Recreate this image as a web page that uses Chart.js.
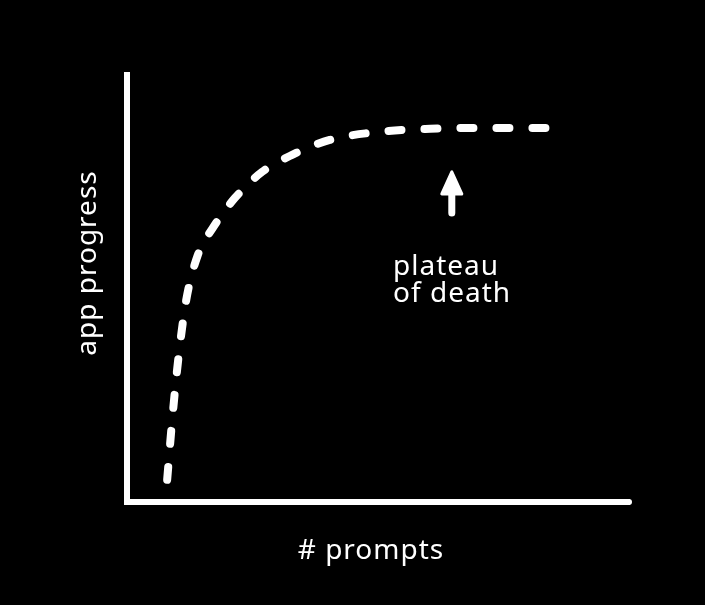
<!DOCTYPE html>
<html>
<head>
<meta charset="utf-8">
<script src="https://cdn.jsdelivr.net/npm/chart.js@4/dist/chart.umd.min.js"></script>
<style>
  html, body { margin: 0; padding: 0; background: #000; }
  #wrap { width: 705px; height: 605px; }
</style>
</head>
<body>
<div id="wrap"><canvas id="curve"></canvas></div>
<script>
// prompts (x) vs app progress (y), both on a 0..100 scale
const prompts = [8.0, 9.0, 10.2, 11.8, 14.1, 17.1, 21.5, 26.9, 32.9, 40.4, 50.4, 60.4, 70.3, 84.3];
const progress = [5.2, 19.2, 33.3, 47.3, 57.8, 64.2, 71.2, 77.3, 81.3, 84.8, 86.7, 87.4, 87.6, 87.6];

const xTitle = "# prompts";
const yTitle = "app progress";
const noteLines = ["plateau", "of death"];

// annotation anchor in data units
const arrowX = 64.7;
const arrowTip = 77.3;
const arrowBase = 67.7;
const noteX = 53.0;
const noteY = [53.2, 46.8];

const FONT = "28px 'Noto Sans', sans-serif";

const sketchText = {
  id: "sketchText",
  afterDraw(chart) {
    const { ctx, chartArea, scales } = chart;
    const x = scales.x, y = scales.y;
    ctx.save();
    ctx.fillStyle = "#fff";
    ctx.strokeStyle = "#fff";

    // round off the axis ends
    ctx.beginPath();
    ctx.arc(chartArea.left, chartArea.top, 3, 0, Math.PI * 2);
    ctx.arc(chartArea.left, chartArea.bottom, 3, 0, Math.PI * 2);
    ctx.fill();
    ctx.beginPath();
    ctx.arc(chartArea.right, chartArea.bottom, 3, 0, Math.PI * 2);
    ctx.fill();

    // arrow pointing at the plateau
    const ax = x.getPixelForValue(arrowX);
    const tip = y.getPixelForValue(arrowTip);
    const base = y.getPixelForValue(arrowBase);
    ctx.lineWidth = 7;
    ctx.lineCap = "round";
    ctx.beginPath();
    ctx.moveTo(ax, base);
    ctx.lineTo(ax, tip + 16);
    ctx.stroke();
    ctx.lineJoin = "round";
    ctx.lineWidth = 3;
    ctx.beginPath();
    ctx.moveTo(ax, tip);
    ctx.lineTo(ax - 10, tip + 22);
    ctx.lineTo(ax + 10, tip + 22);
    ctx.closePath();
    ctx.fill();
    ctx.stroke();

    ctx.font = FONT;
    ctx.letterSpacing = "1px";
    ctx.textAlign = "left";
    ctx.textBaseline = "alphabetic";
    noteLines.forEach((t, i) => {
      ctx.fillText(t, x.getPixelForValue(noteX), y.getPixelForValue(noteY[i]));
    });

    // axis titles
    ctx.textAlign = "center";
    ctx.textBaseline = "middle";
    ctx.fillText(xTitle, chartArea.left + 244, chartArea.bottom + 49);
    ctx.save();
    ctx.translate(chartArea.left - 39, chartArea.top + 188);
    ctx.rotate(-Math.PI / 2);
    ctx.fillText(yTitle, 0, 0);
    ctx.restore();

    ctx.restore();
  }
};

new Chart(document.getElementById("curve"), {
  type: "scatter",
  data: {
    datasets: [{
      data: prompts.map((p, i) => ({ x: p, y: progress[i] })),
      showLine: true,
      borderColor: "#fff",
      borderWidth: 8,
      borderDash: [13, 23],
      borderCapStyle: "round",
      cubicInterpolationMode: "monotone",
      pointRadius: 0,
      fill: false,
    }],
  },
  options: {
    responsive: true,
    maintainAspectRatio: false,
    animation: false,
    layout: { padding: { left: 127, right: 76, top: 75, bottom: 103 } },
    plugins: {
      legend: { display: false },
      tooltip: { enabled: false },
    },
    scales: {
      x: {
        type: "linear",
        min: 0,
        max: 100,
        ticks: { display: false },
        grid: { display: false },
        border: { display: true, color: "#fff", width: 6 },
        afterFit: (s) => { s.height = 0; },
      },
      y: {
        type: "linear",
        min: 0,
        max: 100,
        ticks: { display: false },
        grid: { display: false },
        border: { display: true, color: "#fff", width: 6 },
        afterFit: (s) => { s.width = 0; },
      },
    },
  },
  plugins: [sketchText],
});
</script>
</body>
</html>
